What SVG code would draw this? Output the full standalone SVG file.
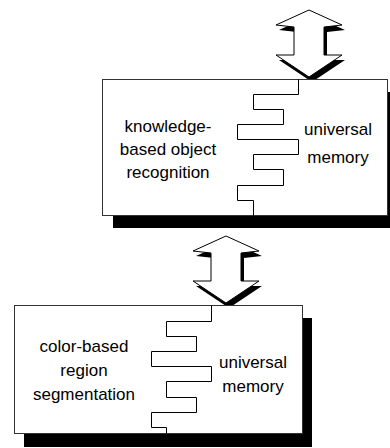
<svg xmlns="http://www.w3.org/2000/svg" width="390" height="448" viewBox="0 0 390 448">
<style>
.box{fill:#fff;stroke:#333;stroke-width:1}
.shadow{fill:#000}
.stair{fill:none;stroke:#000;stroke-width:1}
.arrow{fill:#fff;stroke:#000;stroke-width:1}
text{font-family:"Liberation Sans",Arial,sans-serif;font-size:17px;fill:#000;text-anchor:middle}
</style>
<defs>
<polygon id="arr" points="0,0 -33,15 -15,17 -15,45 -33,45 0,67 33,45 15,45 15,17 33,15"/>
</defs>
<g id="connectors">
<g id="arrow-top" transform="translate(309,10)">
<use href="#arr" class="shadow" transform="translate(3,5)"/>
<use href="#arr" class="arrow"/>
</g>
<g id="arrow-bottom" transform="translate(226,236)">
<use href="#arr" class="shadow" transform="translate(3,5)"/>
<use href="#arr" class="arrow"/>
</g>
</g>
<g id="node-top">
<rect class="shadow" x="113" y="92" width="285" height="136"/>
<rect class="box" x="102.5" y="79.5" width="285" height="136"/>
<path class="stair" d="M298.5,79.5 V94.5 H253.5 V109.5 H283.5 V124.5 H237.5 V139.5 H298.5 V154.5 H253.5 V169.5 H283.5 V185.5 H237.5 V200.5 H253.5 V215.5"/>
<text x="168" y="132">knowledge-</text>
<text x="168" y="155">based object</text>
<text x="168" y="178">recognition</text>
<text x="338" y="135">universal</text>
<text x="338" y="163">memory</text>
</g>
<g id="node-bottom">
<rect class="shadow" x="24" y="318" width="288" height="129"/>
<rect class="box" x="14.5" y="305.5" width="288" height="128"/>
<path class="stair" d="M211.5,305.5 V321.5 H166.5 V336.5 H196.5 V351.5 H151.5 V366.5 H211.5 V381.5 H166.5 V397.5 H196.5 V412.5 H151.5 V427.5 H166.5 V433.5"/>
<text x="84" y="352">color-based</text>
<text x="84" y="376">region</text>
<text x="84" y="400">segmentation</text>
<text x="253" y="368">universal</text>
<text x="253" y="392">memory</text>
</g>
</svg>
